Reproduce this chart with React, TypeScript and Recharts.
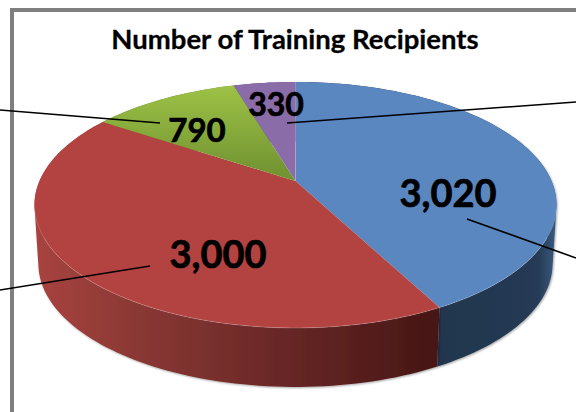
import { PieChart, Pie } from "recharts";

const recipients = [3020, 3000, 790, 330];
const topColors = ["#5a87bf", "#b24341", "url(#greenTop)", "#8a6ca8"];
const wallColors = ["url(#blueWall)", "url(#redWall)", "#6b8a2e", "#5d4676"];

const labelSpots = [
  { x: 448, y: 207 },
  { x: 218, y: 268 },
  { x: 197, y: 142 },
  { x: 276, y: 116 },
];
const leaders = [
  [467, 219, 576, 258],
  [150, 266, 0, 290],
  [160, 123, 0, 110],
  [287, 123, 576, 102],
];
const labelSizes = [38, 38, 33, 32];

const rows = recipients.map((value, i) => ({
  value,
  fill: topColors[i],
  wallFill: wallColors[i],
}));

// tilted disc: a circle pushed through a perspective, the apex sits above the ellipse centre
const APEX_X = 295.5;
const APEX_Y = 181;
const K = 0.195;
const SCALE_X = 256;
const SCALE_Y = 118.3;
const DEPTH = 59;
const BOTTOM_SHRINK = 0.985;

type Pt = [number, number];

function rimPoint(angle: number): Pt {
  const a = (angle * Math.PI) / 180;
  const u = Math.cos(a);
  const v = -Math.sin(a);
  const d = 1 - K * v;
  return [(SCALE_X * u) / d, (SCALE_Y * v) / d];
}

function arcPoints(start: number, end: number): Pt[] {
  const n = Math.max(2, Math.ceil(Math.abs(end - start) / 1.5));
  const pts: Pt[] = [];
  for (let i = 0; i <= n; i++) pts.push(rimPoint(start + ((end - start) * i) / n));
  return pts;
}

function toPath(pts: Pt[]): string {
  return pts.map(([x, y]) => `${x.toFixed(2)} ${y.toFixed(2)}`).join(" L ");
}

function quadPath(q: Pt[]): string {
  // same winding for every quad, so the nonzero fill is a clean union
  let area = 0;
  q.forEach(([x, y], i) => {
    const [nx, ny] = q[(i + 1) % q.length];
    area += x * ny - nx * y;
  });
  const pts = area < 0 ? [...q].reverse() : q;
  return `M ${toPath(pts)} Z`;
}

function TopSlice(props: any) {
  const { startAngle, endAngle, fill } = props;
  const arc = arcPoints(startAngle, endAngle);
  const pts = arc.map(([x, y]) => [APEX_X + x, APEX_Y + y] as Pt);
  // only the front of the rim catches the light
  const front = arc.filter(([, y]) => y > 25).map(([x, y]) => [APEX_X + x, APEX_Y + y] as Pt);
  const first = pts[0];
  return (
    <g>
      <path d={`M ${APEX_X} ${APEX_Y} L ${toPath(pts)} Z`} fill={fill} />
      {front.length > 1 && (
        <path d={`M ${toPath(front)}`} fill="none" stroke="rgba(255,255,255,0.18)" strokeWidth={1} />
      )}
      {startAngle === 90 && (
        <line x1={APEX_X} y1={APEX_Y} x2={first[0]} y2={first[1]} stroke="rgba(255,255,255,0.4)" strokeWidth={1} />
      )}
    </g>
  );
}

function WallSlice(props: any) {
  const { startAngle, endAngle, wallFill, payload } = props;
  const arc = arcPoints(startAngle, endAngle);
  const upper = arc.map(([x, y]) => [APEX_X + x, APEX_Y + y] as Pt);
  const lower = arc.map(([x, y]) => [APEX_X + x * BOTTOM_SHRINK, APEX_Y + y + DEPTH] as Pt);
  const d = arc
    .slice(1)
    .map((_, i) => quadPath([upper[i], upper[i + 1], lower[i + 1], lower[i]]))
    .join(" ");
  return <path d={d} fill={wallFill ?? payload?.wallFill} filter="url(#wallShadow)" />;
}

function SliceLabel(props: any) {
  const { index, value } = props;
  const spot = labelSpots[index];
  const [x1, y1, x2, y2] = leaders[index];
  return (
    <g>
      <line x1={x1} y1={y1} x2={x2} y2={y2} stroke="#000" strokeWidth={1.6} />
      <text
        x={spot.x}
        y={spot.y}
        textAnchor="middle"
        fontFamily="Lato, sans-serif"
        fontWeight={700}
        fontSize={labelSizes[index]}
        fill="#000"
        stroke="#000"
        strokeWidth={0.7}
      >
        {Number(value).toLocaleString("en-US")}
      </text>
    </g>
  );
}

export default function App() {
  return (
    <div style={{ position: "absolute", left: 0, top: 0, width: 576, height: 412, overflow: "hidden", background: "#fff" }}>
      <div style={{ position: "absolute", left: 10, top: 8, width: 566, height: 4, background: "#7f7f7f" }} />
      <div style={{ position: "absolute", left: 10, top: 8, width: 4, height: 404, background: "#7f7f7f" }} />
      <div style={{ position: "absolute", left: 0, top: 0 }}>
        <PieChart width={576} height={412} margin={{ top: 0, right: 0, bottom: 0, left: 0 }}>
          <defs>
            <linearGradient id="greenTop" gradientUnits="userSpaceOnUse" x1="0" y1="85" x2="0" y2="181">
              <stop offset="0" stopColor="#9dc246" />
              <stop offset="1" stopColor="#6f9030" />
            </linearGradient>
            <linearGradient id="redWall" gradientUnits="userSpaceOnUse" x1="36" y1="0" x2="434" y2="0">
              <stop offset="0" stopColor="#a8433f" />
              <stop offset="0.25" stopColor="#8a3834" />
              <stop offset="0.6" stopColor="#6a2827" />
              <stop offset="1" stopColor="#471615" />
            </linearGradient>
            <linearGradient id="blueWall" gradientUnits="userSpaceOnUse" x1="434" y1="0" x2="556" y2="0">
              <stop offset="0" stopColor="#22364e" />
              <stop offset="0.85" stopColor="#253a54" />
              <stop offset="1" stopColor="#3a5a80" />
            </linearGradient>
            <filter id="wallShadow" x="-5%" y="-5%" width="110%" height="110%">
              <feDropShadow dx="1" dy="1" stdDeviation="1.2" floodColor="#000" floodOpacity="0.35" />
            </filter>
          </defs>
          <Pie
            data={rows}
            dataKey="value"
            cx={APEX_X}
            cy={APEX_Y}
            outerRadius={SCALE_X}
            startAngle={90}
            endAngle={-270}
            stroke="none"
            isAnimationActive={false}
            shape={WallSlice}
          />
          <Pie
            data={rows}
            dataKey="value"
            cx={APEX_X}
            cy={APEX_Y}
            outerRadius={SCALE_X}
            startAngle={90}
            endAngle={-270}
            stroke="none"
            isAnimationActive={false}
            shape={TopSlice}
            label={SliceLabel}
            labelLine={false}
          />
          <text x={295} y={49} textAnchor="middle" fontFamily="Lato, sans-serif" fontWeight={700} fontSize={27.5} fill="#000" stroke="#000" strokeWidth={0.3}>
            Number of Training Recipients
          </text>
        </PieChart>
      </div>
    </div>
  );
}
